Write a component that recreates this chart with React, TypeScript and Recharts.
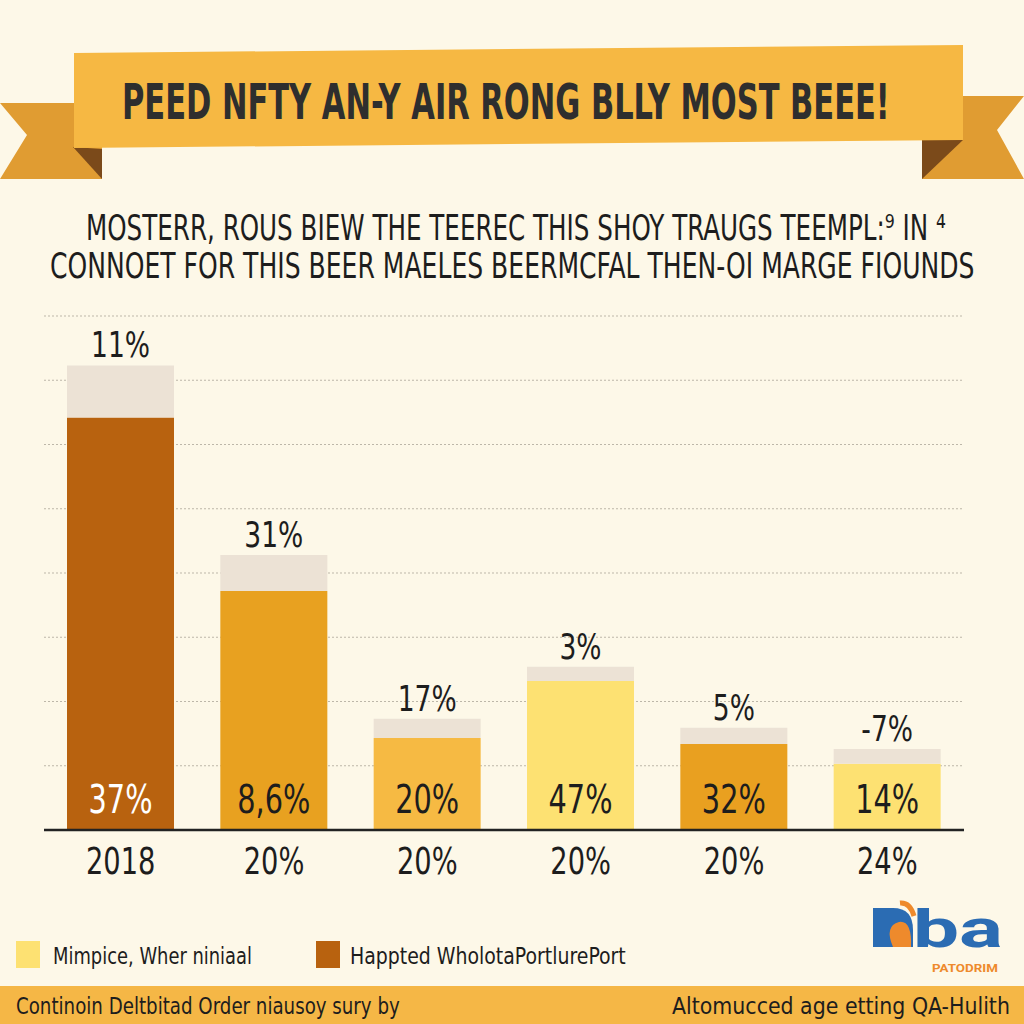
import { useLayoutEffect, useRef, useState } from "react";
import { Bar, BarChart, CartesianGrid, Cell, LabelList, XAxis, YAxis } from "recharts";

const categories = ["2018", "20%", "20%", "20%", "20%", "24%"];
const baseValues = [64.2, 37.2, 14.3, 23.2, 13.4, 10.3];
const capValues = [8.1, 5.6, 3.0, 2.2, 2.5, 2.3];
const topLabels = ["11%", "31%", "17%", "3%", "5%", "-7%"];
const innerLabels = ["37%", "8,6%", "20%", "47%", "32%", "14%"];
const yTicks = [10, 20, 30, 40, 50, 60, 70];

const title = "PEED NFTY AN-Y AIR RONG BLLY MOST BEEE!";
const subtitleLines = [
  "MOSTERR, ROUS BIEW THE TEEREC THIS SHOY TRAUGS TEEMPL:\u2079 IN \u2074",
  "CONNOET FOR THIS BEER MAELES BEERMCFAL THEN-OI MARGE FIOUNDS",
];
const legendItems = ["Mimpice, Wher niniaal", "Happted WholotaPortlurePort"];
const footerLeft = "Continoin Deltbitad Order niausoy sury by";
const footerRight = "Altomucced age etting QA-Hulith";

const BG = "#fdf8e8";
const CAP = "#ece2d5";
const barColors = ["#b8620f", "#e8a120", "#f6ba43", "#fde172", "#e9a020", "#fde172"];
const FONT = '"DejaVu Sans Condensed", "Liberation Sans Narrow", sans-serif';
const SQUEEZE = 0.82;

const data = categories.map((c, i) => ({
  name: `${c}-${i}`,
  base: baseValues[i],
  cap: capValues[i],
}));

// squeezes a text horizontally to a target width, keeps its height
function FitText({ x, y, width, children, ...rest }: any) {
  const ref = useRef<SVGTextElement>(null);
  const [s, setS] = useState(1);
  useLayoutEffect(() => {
    if (!ref.current) return;
    const w = ref.current.getComputedTextLength();
    if (w > 0) setS(width / w);
  }, [width, children]);
  return (
    <text ref={ref} x={0} y={0} transform={`translate(${x},${y}) scale(${s},1)`} {...rest}>
      {children}
    </text>
  );
}

function NarrowText({ x, y, children, ...rest }: any) {
  return (
    <text x={0} y={0} transform={`translate(${x},${y}) scale(${SQUEEZE},1)`} textAnchor="middle" fontFamily={FONT} {...rest}>
      {children}
    </text>
  );
}

function XTick(props: any) {
  const { x, y, index } = props;
  return (
    <NarrowText x={x} y={y + 36} fontSize={37} fill="#1d1d1d">
      {categories[index]}
    </NarrowText>
  );
}

function TopLabel(props: any) {
  const { x, y, width, index } = props;
  return (
    <NarrowText x={x + width / 2} y={y - 8} fontSize={36} fill="#1d1d1d">
      {topLabels[index]}
    </NarrowText>
  );
}

function InnerLabel(props: any) {
  const { x, y, width, height, index } = props;
  return (
    <NarrowText x={x + width / 2} y={y + height - 17} fontSize={39} fill={index === 0 ? "#ffffff" : "#1d1d1d"}>
      {innerLabels[index]}
    </NarrowText>
  );
}

function Decor() {
  return (
    <svg width={1024} height={1024} style={{ position: "absolute", left: 0, top: 0 }}>
      <rect x={0} y={0} width={1024} height={1024} fill={BG} />
      {/* ribbon tails */}
      <polygon points="0,103 102,103 102,179 0,179 27,135" fill="#e09c32" />
      <polygon points="73,147 102,149 102,179" fill="#7b4a1a" />
      <polygon points="922,96 1024,96 997,130 1024,179 922,179" fill="#e09c32" />
      <polygon points="963,140 922,140 922,179" fill="#7b4a1a" />
      {/* ribbon body */}
      <polygon points="74,53 963,45 963,140 74,148" fill="#f6b843" />
      <FitText x={122} y={119} width={768} fontSize={50} fontWeight="bold" fill="#2e2e2e" fontFamily={FONT}>
        {title}
      </FitText>
      {/* subtitle */}
      <FitText x={86} y={240} width={860} fontSize={35} fill="#1d1d1d" fontFamily={FONT}>
        {subtitleLines[0]}
      </FitText>
      <FitText x={50} y={278} width={925} fontSize={35} fill="#1d1d1d" fontFamily={FONT}>
        {subtitleLines[1]}
      </FitText>
      {/* legend */}
      <rect x={16} y={941} width={24} height={27} fill="#fde172" />
      <FitText x={53} y={964} width={199} fontSize={23} fill="#1d1d1d" fontFamily={FONT}>
        {legendItems[0]}
      </FitText>
      <rect x={316} y={941} width={24} height={27} fill="#b8620f" />
      <FitText x={350} y={964} width={276} fontSize={23} fill="#1d1d1d" fontFamily={FONT}>
        {legendItems[1]}
      </FitText>
      {/* logo */}
      <path d="M873,908 H893 Q913,908 913,930 V947 H873 Z" fill="#2b6cb3" />
      <path d="M893,947 Q884,926 899,922 Q912,920 911,947 Z" fill="#ee8a2c" />
      <path d="M900,903 Q910,902 914,916" stroke="#ee8a2c" strokeWidth={5} fill="none" />
      <FitText x={913} y={947} width={90} fontSize={52} fontWeight="bold" fill="#2b6cb3" fontFamily="Roboto, sans-serif">
        ba
      </FitText>
      <FitText x={932} y={972} width={66} fontSize={11} fontWeight="bold" fill="#ee8a2c" fontFamily="Roboto, sans-serif">
        PATODRIM
      </FitText>
      {/* footer */}
      <rect x={0} y={986} width={1024} height={38} fill="#f5b746" />
      <FitText x={16} y={1014} width={384} fontSize={23} fill="#1d1d1d" fontFamily={FONT}>
        {footerLeft}
      </FitText>
      <FitText x={672} y={1014} width={338} fontSize={23} fill="#1d1d1d" fontFamily={FONT}>
        {footerRight}
      </FitText>
    </svg>
  );
}

export default function App() {
  return (
    <div style={{ position: "absolute", left: 0, top: 0, width: 1024, height: 1024, background: BG, overflow: "hidden" }}>
      <Decor />
      <div style={{ position: "absolute", left: 0, top: 0 }}>
        <BarChart
          width={1024}
          height={1024}
          data={data}
          margin={{ top: 316, right: 60, bottom: 134, left: 44 }}
          barSize={107}
        >
          <CartesianGrid vertical={false} stroke="#bdb7a9" strokeDasharray="2 2" />
          <YAxis hide domain={[0, 80]} ticks={yTicks} />
          <XAxis
            dataKey="name"
            height={60}
            tickLine={false}
            axisLine={{ stroke: "#222", strokeWidth: 2.5 }}
            tick={<XTick />}
            interval={0}
          />
          <Bar dataKey="base" stackId="a" isAnimationActive={false}>
            {data.map((_, i) => (
              <Cell key={i} fill={barColors[i]} />
            ))}
            <LabelList dataKey="base" content={<InnerLabel />} />
          </Bar>
          <Bar dataKey="cap" stackId="a" fill={CAP} isAnimationActive={false}>
            <LabelList dataKey="cap" content={<TopLabel />} />
          </Bar>
        </BarChart>
      </div>
    </div>
  );
}
